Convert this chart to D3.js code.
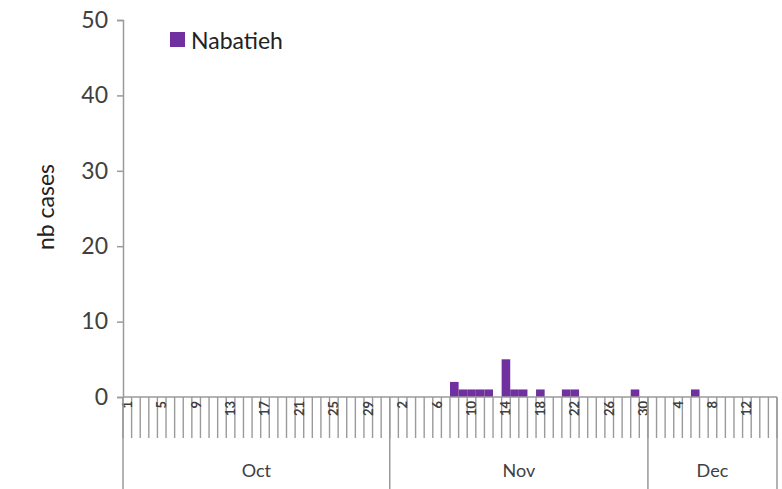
<!DOCTYPE html>
<html><head><meta charset="utf-8">
<script src="https://cdn.jsdelivr.net/npm/d3@7"></script>
<style>body{margin:0;background:#fff}svg{display:block}</style>
</head><body>
<svg id="c" width="782" height="489"></svg>
<script>
// Data
const months = ["Oct", "Nov", "Dec"];
const monthDays = [31, 30, 15];
const seriesName = "Nabatieh";
// non-zero daily counts: [month, day, cases]
const caseDays = [["Nov",8,2],["Nov",9,1],["Nov",10,1],["Nov",11,1],["Nov",12,1],
  ["Nov",14,5],["Nov",15,1],["Nov",16,1],["Nov",18,1],["Nov",21,1],["Nov",22,1],
  ["Nov",29,1],["Dec",6,1]];
const yTicks = [0,10,20,30,40,50];

const days = [];
months.forEach((m,i)=>{ for(let d=1; d<=monthDays[i]; d++) days.push({m, d, key:m+"-"+d, v:0}); });
caseDays.forEach(([m,d,v])=>{ const o = days.find(x=>x.key===m+"-"+d); if(o) o.v = v; });

const svg = d3.select("#c");
const L = 123, R = 777, T = 20, B = 397;
const x = d3.scaleBand().domain(days.map(d=>d.key)).range([L,R]).padding(0);
const y = d3.scaleLinear().domain([0,50]).range([B,T]);
const font = "Lato, 'Open Sans', sans-serif";
const axisCol = "#9a9a9a", textCol = "#404040";

// bars
svg.append("g").selectAll("rect").data(days.filter(d=>d.v>0)).join("rect")
  .attr("x", d=>x(d.key)).attr("width", x.bandwidth())
  .attr("y", d=>y(d.v)).attr("height", d=>y(0)-y(d.v))
  .attr("fill", "#7030a0");

// y axis
const ya = svg.append("g").attr("transform", `translate(${L},0)`)
  .call(d3.axisLeft(y).tickValues(yTicks).tickSize(6).tickPadding(9));
ya.select(".domain").attr("stroke", axisCol).attr("stroke-width",1.5);
ya.selectAll(".tick line").attr("stroke", axisCol).attr("stroke-width",1.5);
ya.selectAll(".tick text").attr("fill", textCol).style("font-family", font).style("font-size","23px");

// y label
svg.append("text").attr("transform", "translate(54,207) rotate(-90)")
  .attr("text-anchor","middle").attr("fill", "#222").style("font-family", font)
  .style("font-size","23px").text("nb cases");

// x axis baseline
svg.append("line").attr("x1",L).attr("x2",R).attr("y1",B).attr("y2",B)
  .attr("stroke", axisCol).attr("stroke-width",1.5);

// category tick lines
const bounds = days.map(d=>x(d.key)).concat([R]);
svg.append("g").selectAll("line").data(bounds).join("line")
  .attr("x1", d=>d).attr("x2", d=>d).attr("y1", B).attr("y2", 438)
  .attr("stroke", axisCol).attr("stroke-width",1.4);

// day labels every 4th day
svg.append("g").selectAll("text").data(days.filter((d,i)=>i%4===0)).join("text")
  .attr("transform", d=>`translate(${x(d.key)+x.bandwidth()/2+4.5},${401}) rotate(-90)`)
  .attr("text-anchor","end").attr("fill", textCol).style("font-family", font)
  .style("font-size","13px").style("font-weight","bold").text(d=>d.d);

// month boundaries and labels
let acc = 0;
const mInfo = months.map((m,i)=>{ const s = acc; acc += monthDays[i]; return {m, s, e:acc}; });
const mx = i => i < days.length ? x(days[i].key) : R;
svg.append("g").selectAll("line").data(mInfo.map(o=>o.s).concat([days.length])).join("line")
  .attr("x1", d=>mx(d)).attr("x2", d=>mx(d)).attr("y1", B).attr("y2", 489)
  .attr("stroke", axisCol).attr("stroke-width",1.5);
svg.append("g").selectAll("text").data(mInfo).join("text")
  .attr("x", d=>(mx(d.s)+mx(d.e))/2).attr("y", 477).attr("text-anchor","middle")
  .attr("fill", textCol).style("font-family", font).style("font-size","18px").text(d=>d.m);

// legend
svg.append("rect").attr("x",170).attr("y",32).attr("width",15).attr("height",15).attr("fill","#7030a0");
svg.append("text").attr("x",191).attr("y",49).attr("fill","#222").style("font-family", font)
  .style("font-size","23px").text(seriesName);
</script>
</body></html>
